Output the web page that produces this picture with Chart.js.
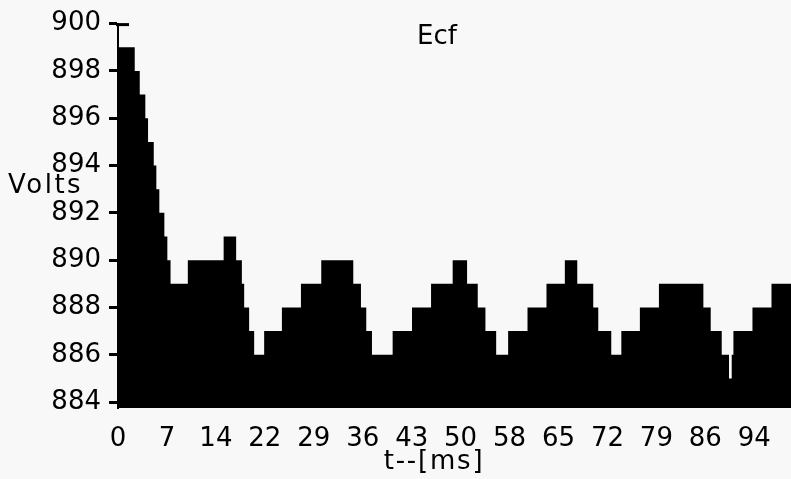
<!DOCTYPE html>
<html>
<head>
<meta charset="utf-8">
<script src="https://cdn.jsdelivr.net/npm/chart.js@4/dist/chart.umd.min.js"></script>
<style>
  html, body { margin: 0; padding: 0; background: #f8f8f8; }
  #wrap { width: 791px; height: 479px; position: relative; }
</style>
</head>
<body>
<div id="wrap"><canvas id="c"></canvas></div>
<script>
// Ecf record: time of each level change (ms) and the level held from then on (V)
const tMs = [0, 2.46, 3.20, 4.02, 4.42, 5.26, 5.64, 6.08, 6.82, 7.26, 7.73, 10.27,
  15.54, 17.38, 18.22, 18.56, 19.29, 20.03, 21.50, 24.11, 26.91, 29.90, 34.61,
  35.74, 36.52, 37.36, 40.40, 43.25, 46.05, 49.23, 51.35, 52.92, 54.05, 55.63,
  57.39, 60.24, 63.03, 65.73, 67.56, 69.91, 70.65, 72.56, 74.04, 76.77, 79.57,
  86.11, 87.19, 88.81, 89.88, 90.28, 90.53, 93.33, 96.13, 99];
const volts = [899, 898, 897, 896, 895, 894, 893, 892, 891, 890, 889, 890,
  891, 890, 889, 888, 887, 886, 887, 888, 889, 890, 889,
  888, 887, 886, 887, 888, 889, 890, 889, 888, 887, 886,
  887, 888, 889, 890, 889, 888, 887, 886, 887, 888, 889,
  888, 887, 886, 885, 886, 887, 888, 889, 889];

// axis ticks
const xTickValues = [0, 7.2, 14.4, 21.6, 28.8, 36, 43.2, 50.4, 57.6, 64.8, 72, 79.2, 86.4, 93.6];
const yTickValues = [884, 886, 888, 890, 892, 894, 896, 898, 900];

const chartTitle = 'Ecf';
const yCaption = 'Volts';
const xCaption = 't--[ms]';

const FONT = '"DejaVu Sans", Verdana, sans-serif';

const captions = {
  id: 'captions',
  afterDraw(chart) {
    const { ctx, scales } = chart;
    const y = scales.y;
    ctx.save();
    // cap on the top of the value axis
    ctx.strokeStyle = '#000';
    ctx.lineWidth = 3;
    const yTop = y.getPixelForValue(900) + 1;
    ctx.beginPath();
    ctx.moveTo(y.right - 2, yTop);
    ctx.lineTo(y.right + 11, yTop);
    ctx.stroke();

    ctx.fillStyle = '#000';
    ctx.font = '26px ' + FONT;
    ctx.textBaseline = 'middle';
    ctx.textAlign = 'center';
    ctx.fillText(chartTitle, 437, 37);
    ctx.letterSpacing = '2.5px';
    ctx.textAlign = 'left';
    ctx.fillText(yCaption, 8, 186);
    ctx.letterSpacing = '1.8px';
    ctx.textAlign = 'center';
    ctx.fillText(xCaption, 434, 462);
    ctx.restore();
  }
};

new Chart(document.getElementById('c'), {
  type: 'line',
  data: {
    datasets: [{
      data: tMs.map((t, i) => ({ x: t, y: volts[i] })),
      stepped: true,
      fill: 'start',
      backgroundColor: '#000',
      borderColor: '#000',
      borderWidth: 0,
      pointRadius: 0
    }]
  },
  options: {
    responsive: true,
    maintainAspectRatio: false,
    animation: false,
    events: [],
    layout: { padding: { top: 18, right: 0, left: 0, bottom: 0 } },
    plugins: { legend: { display: false }, tooltip: { enabled: false } },
    scales: {
      x: {
        type: 'linear',
        min: 0,
        max: 99,
        grid: { display: false, drawTicks: false },
        border: { display: false },
        afterBuildTicks: s => { s.ticks = xTickValues.map(v => ({ value: v })); },
        afterFit: s => { s.height = 71; },
        ticks: {
          color: '#000',
          font: { family: FONT, size: 26 },
          padding: 16,
          maxRotation: 0,
          autoSkip: false,
          callback: v => String(Math.round(v))
        }
      },
      y: {
        min: 883.75,
        max: 900,
        grid: { drawOnChartArea: false, drawTicks: true, tickLength: 9, tickWidth: 3, color: '#000' },
        border: { display: true, color: '#000', width: 2 },
        afterBuildTicks: s => { s.ticks = yTickValues.map(v => ({ value: v })); },
        afterFit: s => { s.width = 118; },
        ticks: {
          color: '#000',
          font: { family: FONT, size: 26 },
          padding: 8,
          autoSkip: false,
          callback: v => String(v)
        }
      }
    }
  },
  plugins: [captions]
});
</script>
</body>
</html>
